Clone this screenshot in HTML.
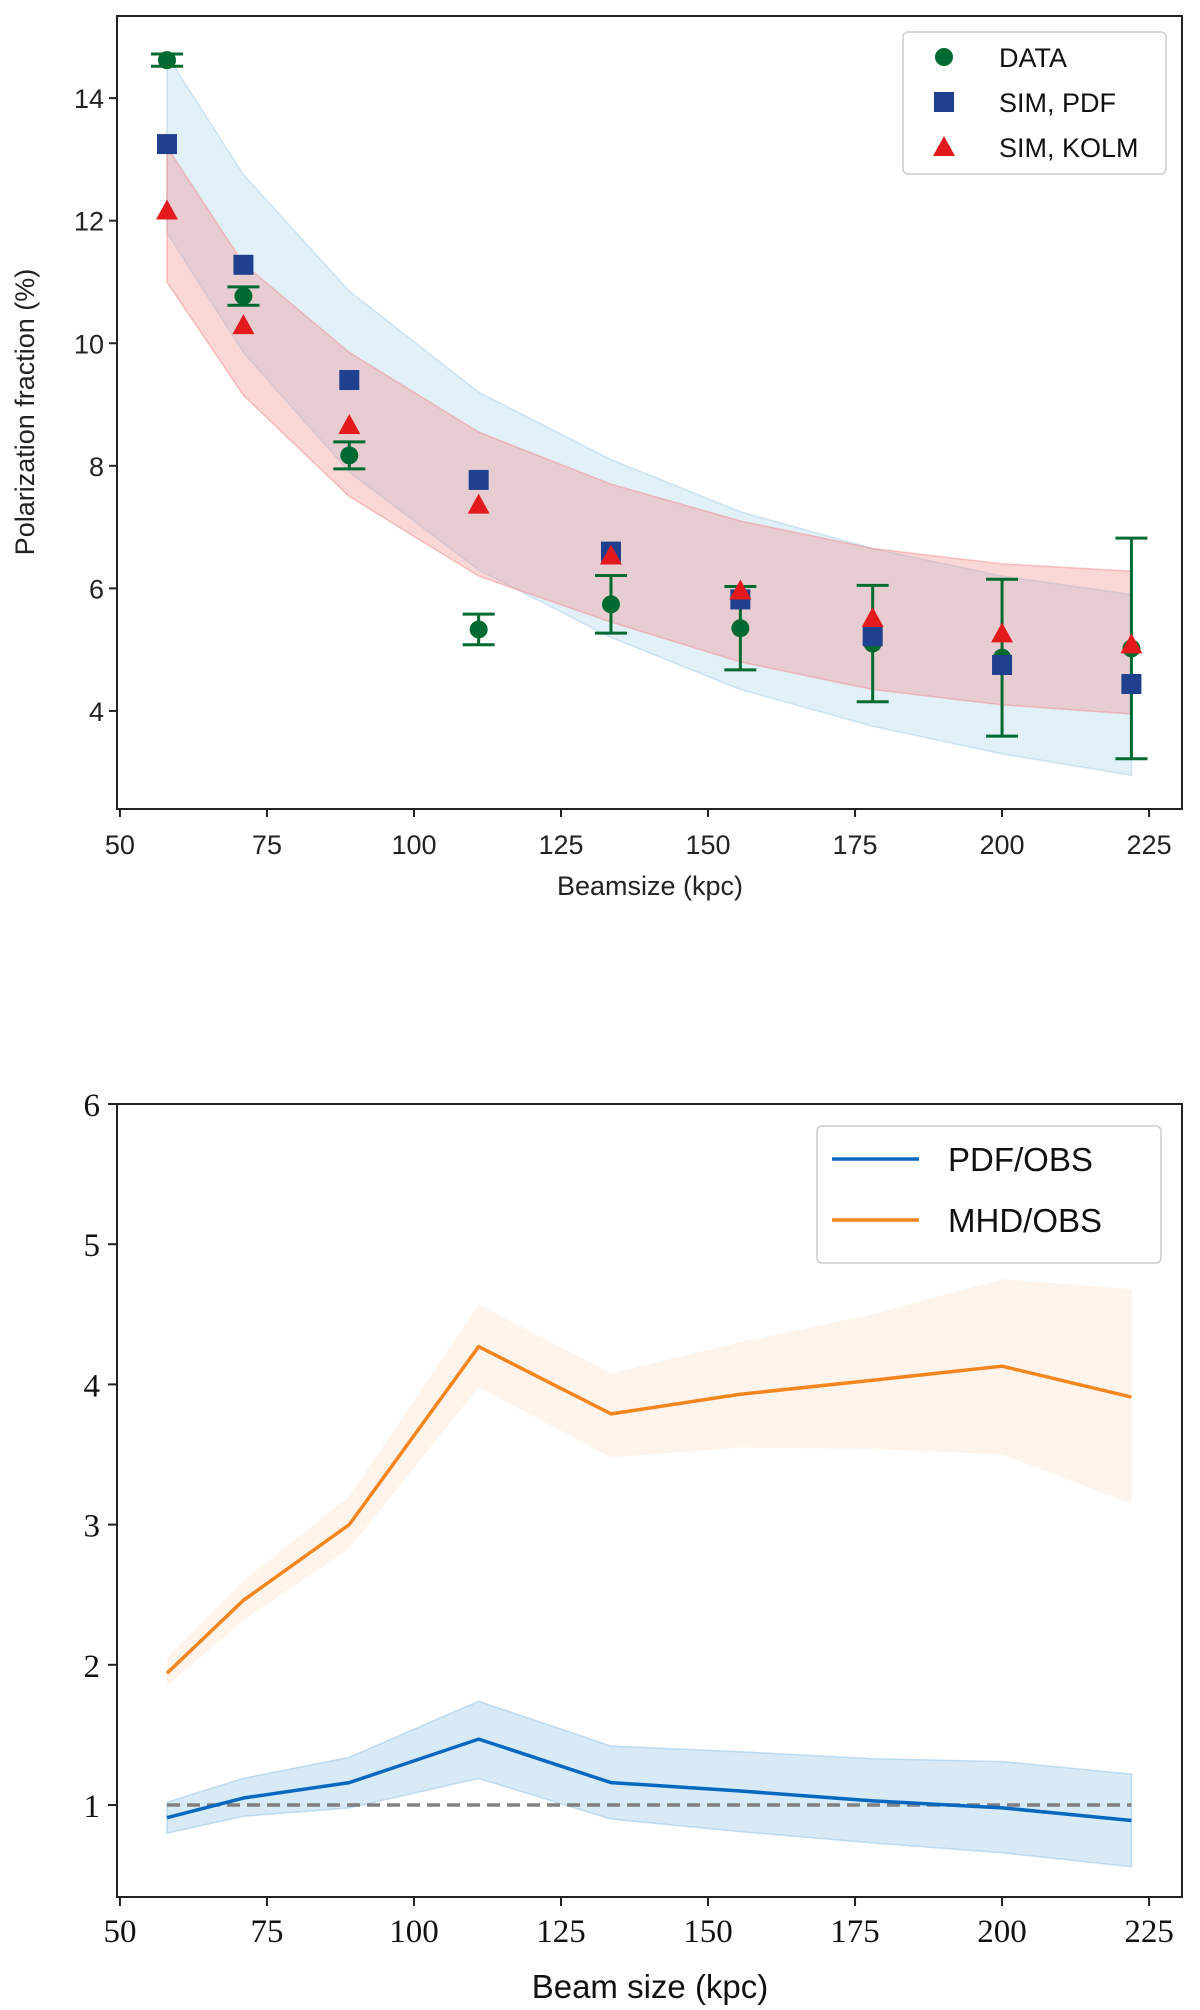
<!DOCTYPE html>
<html><head><meta charset="utf-8"><style>
html,body{margin:0;padding:0;background:#fff;}
svg{display:block;}
</style></head>
<body>
<svg id="chart" width="1200" height="2010" viewBox="0 0 1200 2010" xmlns="http://www.w3.org/2000/svg">
<g id="top"></g>
<g id="bot"></g>
</svg>
<script>
// ---- data: top chart ----
const beamX = [58, 71, 89, 111, 133.5, 155.5, 178, 200, 222];
const dataY = [14.62, 10.77, 8.17, 5.33, 5.74, 5.35, 5.1, 4.87, 5.02];
const dataErr = [0.1, 0.15, 0.22, 0.25, 0.47, 0.68, 0.95, 1.28, 1.8];
const pdfY = [13.25, 11.28, 9.4, 7.77, 6.6, 5.82, 5.22, 4.75, 4.44];
const kolmY = [12.15, 10.28, 8.65, 7.35, 6.52, 5.95, 5.5, 5.25, 5.07];
const pdfBandHi = [14.7, 12.75, 10.85, 9.2, 8.1, 7.25, 6.65, 6.2, 5.9];
const pdfBandLo = [11.8, 9.85, 7.9, 6.3, 5.2, 4.35, 3.75, 3.3, 2.95];
const kolmBandHi = [13.2, 11.3, 9.85, 8.55, 7.7, 7.1, 6.65, 6.4, 6.28];
const kolmBandLo = [11.0, 9.15, 7.5, 6.2, 5.45, 4.8, 4.35, 4.1, 3.95];
const topYTicks = [4, 6, 8, 10, 12, 14];
const xTicks = [50, 75, 100, 125, 150, 175, 200, 225];
// ---- data: bottom chart ----
const pdfRatio = [0.91, 1.05, 1.16, 1.47, 1.16, 1.1, 1.03, 0.98, 0.89];
const pdfRatioHi = [1.02, 1.19, 1.34, 1.74, 1.42, 1.38, 1.33, 1.31, 1.22];
const pdfRatioLo = [0.8, 0.92, 0.98, 1.19, 0.9, 0.81, 0.73, 0.66, 0.56];
const mhdRatio = [1.94, 2.46, 3.0, 4.27, 3.79, 3.93, 4.03, 4.13, 3.91];
const mhdRatioHi = [2.05, 2.6, 3.2, 4.57, 4.08, 4.3, 4.5, 4.75, 4.68];
const mhdRatioLo = [1.85, 2.32, 2.83, 3.98, 3.48, 3.55, 3.54, 3.5, 3.15];
const botYTicks = [1, 2, 3, 4, 5, 6];

const NS = "http://www.w3.org/2000/svg";
function mk(parent, tag, attrs, text) {
  const e = document.createElementNS(NS, tag);
  for (const k in attrs) e.setAttribute(k, attrs[k]);
  if (text !== undefined) e.textContent = text;
  parent.appendChild(e);
  return e;
}
const L = 117, R = 1182;
const xMin = 49.5, xMax = 230.6;
const sx = v => L + (v - xMin) / (xMax - xMin) * (R - L);

// ===== TOP =====
const topG = document.getElementById('top');
const tT = 16, tB = 809, tyMin = 2.40, tyMax = 15.34;
const syT = v => tB - (v - tyMin) / (tyMax - tyMin) * (tB - tT);
function band(g, hi, lo, sy, fill, stroke, op, name) {
  let d = beamX.map((x, i) => (i ? 'L' : 'M') + sx(x) + ' ' + sy(hi[i])).join(' ');
  for (let i = beamX.length - 1; i >= 0; i--) d += ' L' + sx(beamX[i]) + ' ' + sy(lo[i]);
  const p = mk(g, 'path', {d: d + 'Z', fill: fill, 'fill-opacity': op, stroke: stroke, 'stroke-opacity': 0.5, 'stroke-width': 1.5});
  
  
}
band(topG, pdfBandHi, pdfBandLo, syT, '#a6d0ea', '#a6d0ea', 0.33, 'sim-pdf-band');
band(topG, kolmBandHi, kolmBandLo, syT, '#f28c8c', '#f28c8c', 0.35, 'sim-kolm-band');
beamX.forEach((x, i) => {
  const cx = sx(x), g = mk(topG, 'g', {});
  
  
  const y1 = syT(dataY[i] + dataErr[i]), y2 = syT(dataY[i] - dataErr[i]);
  mk(g, 'line', {x1: cx, x2: cx, y1: y1, y2: y2, stroke: '#006b30', 'stroke-width': 3});
  mk(g, 'line', {x1: cx - 16, x2: cx + 16, y1: y1, y2: y1, stroke: '#006b30', 'stroke-width': 3});
  mk(g, 'line', {x1: cx - 16, x2: cx + 16, y1: y2, y2: y2, stroke: '#006b30', 'stroke-width': 3});
  mk(g, 'circle', {cx: cx, cy: syT(dataY[i]), r: 9, fill: '#006b30'});
});
beamX.forEach((x, i) => {
  const r = mk(topG, 'rect', {x: sx(x) - 10, y: syT(pdfY[i]) - 10, width: 20, height: 20, fill: '#1f3f8f'});
  
  
});
beamX.forEach((x, i) => {
  const cx = sx(x), cy = syT(kolmY[i]);
  const t = mk(topG, 'polygon', {points: `${cx},${cy - 12} ${cx - 11},${cy + 8} ${cx + 11},${cy + 8}`, fill: '#e31a1c'});
  
  
});
mk(topG, 'rect', {x: L, y: tT, width: R - L, height: tB - tT, fill: 'none', stroke: '#222', 'stroke-width': 2});
const sans = '"Liberation Sans", "DejaVu Sans", sans-serif';
topYTicks.forEach(v => {
  const y = syT(v);
  mk(topG, 'line', {x1: L - 8, x2: L, y1: y, y2: y, stroke: '#222', 'stroke-width': 2});
  const t = mk(topG, 'text', {x: L - 13, y: y + 10, 'text-anchor': 'end', 'font-family': sans, 'font-size': 27, fill: '#222'}, v);
  
  
});
xTicks.forEach(v => {
  const x = sx(v);
  mk(topG, 'line', {x1: x, x2: x, y1: tB, y2: tB + 8, stroke: '#222', 'stroke-width': 2});
  const t = mk(topG, 'text', {x: x, y: tB + 45, 'text-anchor': 'middle', 'font-family': sans, 'font-size': 27, fill: '#222'}, v);
  
  
});
</script>
<script>
(function(){
const tg = document.getElementById('top');
const NS = "http://www.w3.org/2000/svg";
const sans = '"Liberation Sans", "DejaVu Sans", sans-serif';
let t = document.createElementNS(NS, 'text');


t.setAttribute('x', 650); t.setAttribute('y', 895); t.setAttribute('text-anchor', 'middle');
t.setAttribute('font-family', sans); t.setAttribute('font-size', 27); t.setAttribute('fill', '#222');
t.textContent = 'Beamsize (kpc)'; tg.appendChild(t);
t = document.createElementNS(NS, 'text');


t.setAttribute('transform', 'translate(34,412) rotate(-90)'); t.setAttribute('text-anchor', 'middle');
t.setAttribute('font-family', sans); t.setAttribute('font-size', 27); t.setAttribute('fill', '#222');
t.textContent = 'Polarization fraction (%)'; tg.appendChild(t);
const lg = document.createElementNS(NS, 'g');


tg.appendChild(lg);
lg.innerHTML = '<rect x="903" y="32" width="263" height="142" rx="5" fill="#fff" fill-opacity="0.85" stroke="#ccc" stroke-width="1.5"/>'
 + '<circle cx="944" cy="57" r="9" fill="#006b30"/>'
 + '<rect x="934" y="92" width="20" height="20" fill="#1f3f8f"/>'
 + '<polygon points="944,136 933,156 955,156" fill="#e31a1c"/>'
 + '<text x="999" y="67" font-family=\'"Liberation Sans",sans-serif\' font-size="27" fill="#111">DATA</text>'
 + '<text x="999" y="112" font-family=\'"Liberation Sans",sans-serif\' font-size="27" fill="#111">SIM, PDF</text>'
 + '<text x="999" y="157" font-family=\'"Liberation Sans",sans-serif\' font-size="27" fill="#111">SIM, KOLM</text>';
})();
</script>
<script>
(function(){
const bot = document.getElementById('bot');
const NS = "http://www.w3.org/2000/svg";
function mk(parent, tag, attrs, text) {
  const e = document.createElementNS(NS, tag);
  for (const k in attrs) e.setAttribute(k, attrs[k]);
  if (text !== undefined) e.textContent = text;
  parent.appendChild(e);
  return e;
}
const L = 117, R = 1182, xMin = 49.5, xMax = 230.6;
const sx = v => L + (v - xMin) / (xMax - xMin) * (R - L);
const bT = 1104, bB = 1897, yMin = 0.344, yMax = 6;
const sy = v => bB - (v - yMin) / (yMax - yMin) * (bB - bT);
const serif = '"Liberation Serif", "DejaVu Serif", serif';
function bandPath(hi, lo) {
  let d = beamX.map((x, i) => (i ? 'L' : 'M') + sx(x) + ' ' + sy(hi[i])).join(' ');
  for (let i = beamX.length - 1; i >= 0; i--) d += ' L' + sx(beamX[i]) + ' ' + sy(lo[i]);
  return d + 'Z';
}
const linePath = arr => beamX.map((x, i) => (i ? 'L' : 'M') + sx(x) + ' ' + sy(arr[i])).join(' ');
let e = mk(bot, 'path', {d: bandPath(pdfRatioHi, pdfRatioLo), fill: '#9ecae9', 'fill-opacity': 0.4, stroke: '#9ecae9', 'stroke-opacity': 0.6, 'stroke-width': 1.5});


e = mk(bot, 'path', {d: bandPath(mhdRatioHi, mhdRatioLo), fill: '#fde6d2', 'fill-opacity': 0.45, stroke: 'none'});


e = mk(bot, 'line', {x1: sx(beamX[0]), x2: sx(beamX[beamX.length - 1]), y1: sy(1), y2: sy(1), stroke: '#808080', 'stroke-width': 3.5, 'stroke-dasharray': '13 7'});


e = mk(bot, 'path', {d: linePath(pdfRatio), fill: 'none', stroke: '#0868c0', 'stroke-width': 3.5, 'stroke-linejoin': 'round'});


e = mk(bot, 'path', {d: linePath(mhdRatio), fill: 'none', stroke: '#f7851e', 'stroke-width': 3.5, 'stroke-linejoin': 'round'});


mk(bot, 'rect', {x: L, y: bT, width: R - L, height: bB - bT, fill: 'none', stroke: '#222', 'stroke-width': 2});
botYTicks.forEach(v => {
  const y = sy(v);
  mk(bot, 'line', {x1: L - 9, x2: L, y1: y, y2: y, stroke: '#222', 'stroke-width': 2});
  const t = mk(bot, 'text', {x: L - 17, y: y + 12, 'text-anchor': 'end', 'font-family': serif, 'font-size': 33, fill: '#111'}, v);
  
  
});
xTicks.forEach(v => {
  const x = sx(v);
  mk(bot, 'line', {x1: x, x2: x, y1: bB, y2: bB + 9, stroke: '#222', 'stroke-width': 2});
  const t = mk(bot, 'text', {x: x, y: bB + 45, 'text-anchor': 'middle', 'font-family': serif, 'font-size': 33, fill: '#111'}, v);
  
  
});
e = mk(bot, 'text', {x: 650, y: 1998, 'text-anchor': 'middle', 'font-family': '"Liberation Sans", sans-serif', 'font-size': 33, fill: '#111'}, 'Beam size (kpc)');


const lg = mk(bot, 'g', {});


mk(lg, 'rect', {x: 817, y: 1126, width: 344, height: 137, rx: 5, fill: '#fff', stroke: '#ccc', 'stroke-width': 1.5});
mk(lg, 'line', {x1: 832, x2: 919, y1: 1159, y2: 1159, stroke: '#0868c0', 'stroke-width': 3.5});
mk(lg, 'line', {x1: 832, x2: 919, y1: 1220, y2: 1220, stroke: '#f7851e', 'stroke-width': 3.5});
mk(lg, 'text', {x: 948, y: 1171, 'font-family': '"Liberation Sans", sans-serif', 'font-size': 33, fill: '#111'}, 'PDF/OBS');
mk(lg, 'text', {x: 948, y: 1232, 'font-family': '"Liberation Sans", sans-serif', 'font-size': 33, fill: '#111'}, 'MHD/OBS');
})();
</script>
</body></html>
